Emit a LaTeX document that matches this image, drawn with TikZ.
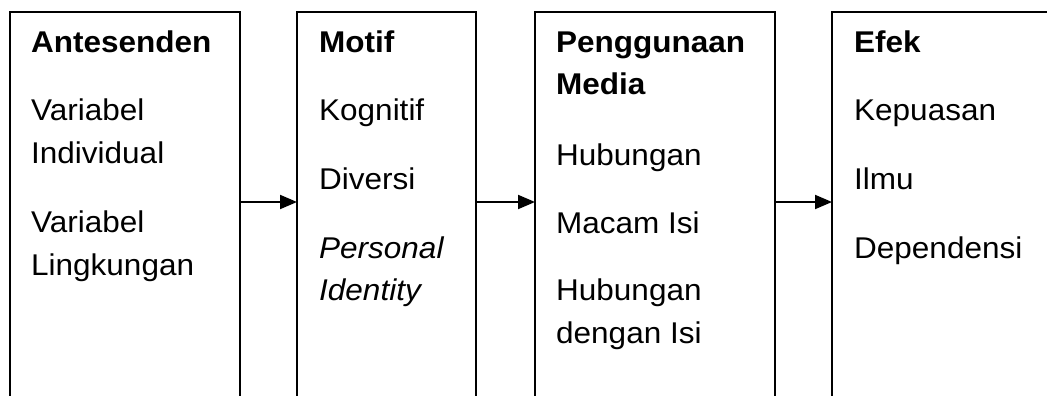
\documentclass[tikz,border=0pt]{standalone}
\usepackage{fontspec}
\setmainfont[FakeStretch=1.05]{Liberation Sans}
\usetikzlibrary{arrows.meta}
\tikzset{
  frame/.style={draw=black, line width=2pt},
  flow/.style={draw=black, line width=2pt, -{Triangle[length=17pt,width=14pt]}},
  txt/.style={anchor=base west, inner sep=0pt, font=\fontsize{30}{36}\selectfont},
  head/.style={txt, font=\fontsize{30}{36}\selectfont\bfseries},
}
\begin{document}
\begin{tikzpicture}[x=1pt,y=-1pt]
\useasboundingbox (0,0) rectangle (1047,396);
% open-bottom columns
\draw[frame] (10,410) -- (10,12) -- (240,12) -- (240,410);
\draw[frame] (297,410) -- (297,12) -- (476,12) -- (476,410);
\draw[frame] (535,410) -- (535,12) -- (775,12) -- (775,410);
\draw[frame] (832,410) -- (832,12) -- (1060,12) -- (1060,410);
% arrow anchor points on the column edges
\coordinate (o1) at (240,202);
\coordinate (i2) at (297,202);
\coordinate (o2) at (476,202);
\coordinate (i3) at (535,202);
\coordinate (o3) at (775,202);
\coordinate (i4) at (832,202);
\draw[flow] (o1) -- (i2);
\draw[flow] (o2) -- (i3);
\draw[flow] (o3) -- (i4);
% Antesenden
\node[head] (a0) at (31,53) {Antesenden};
\node[txt] (a1) at (31,120) {Variabel};
\node[txt] (a2) at (31,163) {Individual};
\node[txt] (a3) at (31,232) {Variabel};
\node[txt] (a4) at (31,275) {Lingkungan};
% Motif
\node[head] (m0) at (319,53) {Motif};
\node[txt] (m1) at (319,120) {Kognitif};
\node[txt] (m2) at (319,189) {Diversi};
\node[txt] (m3) at (319,258) {\itshape Personal};
\node[txt] (m4) at (319,300) {\itshape Identity};
% Penggunaan Media
\node[head] (p0) at (556,53) {Penggunaan};
\node[head] (p1) at (556,94) {Media};
\node[txt] (p2) at (556,165) {Hubungan};
\node[txt] (p3) at (556,233) {Macam Isi};
\node[txt] (p4) at (556,300) {Hubungan};
\node[txt] (p5) at (556,343) {dengan Isi};
% Efek
\node[head] (e0) at (854,53) {Efek};
\node[txt] (e1) at (854,120) {Kepuasan};
\node[txt] (e2) at (854,189) {Ilmu};
\node[txt] (e3) at (854,258) {Dependensi};
\end{tikzpicture}
\end{document}
